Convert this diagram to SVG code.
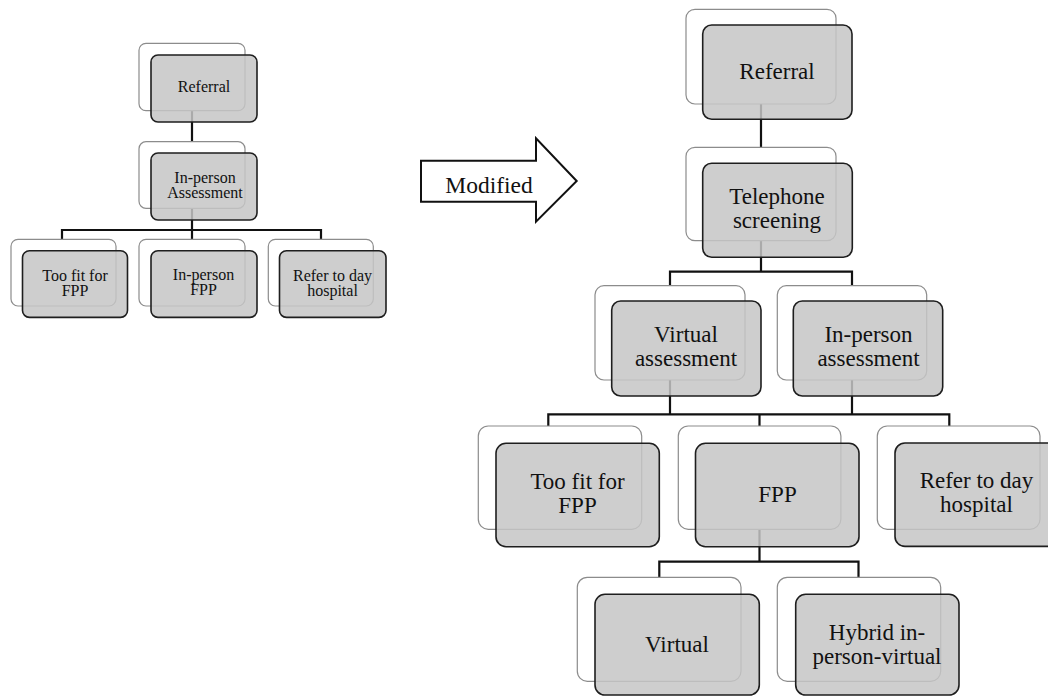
<svg xmlns="http://www.w3.org/2000/svg" width="1048" height="696" viewBox="0 0 1048 696">
<style>
.bk{fill:#ffffff;stroke:#8c8c8c;stroke-width:1.2}
.fr{fill:#c6c6c6;fill-opacity:0.85;stroke:#1e1e1e;stroke-width:1.6}
.cn{fill:none;stroke:#111;stroke-width:2.2}
.t{font-family:"Liberation Serif","Times New Roman",serif;fill:#111;text-anchor:middle}
.s{font-size:16px}
.l{font-size:23px}
</style>
<rect width="1048" height="696" fill="#fff"/>
<g id="connectors">
<path class="cn" d="M192 110.7V141.7M192 208.3V230M62 239.3V230H321V239.3M192 230V239.3"/>
<path class="cn" d="M761 104V147.3M761 240.7V271.7M670 285.7V271.7H852V285.7"/>
<path class="cn" d="M670 380V414.3M852 380V414.3M548.3 426V414.3H949.3V426M759.5 414.3V426"/>
<path class="cn" d="M759.5 529.3V561.7M659.3 577.3V561.7H858.5V577.3"/>
</g>
<g id="arrow-modified">
<polygon points="421,160.7 536,160.7 536,138.3 576.7,181 536,221.7 536,201.7 421,201.7" fill="#fff" stroke="#111" stroke-width="2"/>
<text class="t" x="489" y="192.5" style="font-size:23.5px">Modified</text>
</g>
<g id="left-referral">
<rect class="bk" x="139" y="43.3" width="106" height="67.4" rx="7"/>
<rect class="fr" x="151" y="55" width="106" height="67" rx="7"/>
<text class="t s" x="204" y="92">Referral</text>
</g>
<g id="left-inperson-assessment">
<rect class="bk" x="139" y="141.7" width="106" height="66.6" rx="7"/>
<rect class="fr" x="151" y="153" width="106" height="67" rx="7"/>
<text class="t s" x="205" y="183">In-person</text>
<text class="t s" x="205" y="198">Assessment</text>
</g>
<g id="left-toofit">
<rect class="bk" x="11" y="239.3" width="105" height="66.7" rx="7"/>
<rect class="fr" x="22.5" y="250.7" width="105" height="66.7" rx="7"/>
<text class="t s" x="75" y="281">Too fit for</text>
<text class="t s" x="75" y="296">FPP</text>
</g>
<g id="left-inperson-fpp">
<rect class="bk" x="139" y="239.3" width="106" height="66.7" rx="7"/>
<rect class="fr" x="151" y="250.7" width="106" height="66.7" rx="7"/>
<text class="t s" x="203.5" y="280">In-person</text>
<text class="t s" x="203.5" y="295">FPP</text>
</g>
<g id="left-refer">
<rect class="bk" x="268.3" y="239.3" width="105" height="66.7" rx="7"/>
<rect class="fr" x="279.5" y="250.7" width="106.5" height="66.7" rx="7"/>
<text class="t s" x="332.5" y="281">Refer to day</text>
<text class="t s" x="332.5" y="296">hospital</text>
</g>
<g id="right-referral">
<rect class="bk" x="686" y="9.3" width="150" height="94.7" rx="9"/>
<rect class="fr" x="702.7" y="25" width="149.3" height="94.3" rx="9"/>
<text class="t l" x="777" y="78.5">Referral</text>
</g>
<g id="right-telephone">
<rect class="bk" x="686" y="147.3" width="150" height="93.4" rx="9"/>
<rect class="fr" x="702.7" y="163.3" width="149.6" height="94" rx="9"/>
<text class="t l" x="777" y="203.5">Telephone</text>
<text class="t l" x="777" y="227.5">screening</text>
</g>
<g id="right-virtual-assessment">
<rect class="bk" x="595" y="285.7" width="150" height="94.3" rx="9"/>
<rect class="fr" x="611.7" y="301" width="149.3" height="95" rx="9"/>
<text class="t l" x="686" y="341.5">Virtual</text>
<text class="t l" x="686" y="365.5">assessment</text>
</g>
<g id="right-inperson-assessment">
<rect class="bk" x="777.3" y="285.7" width="149.4" height="94.3" rx="9"/>
<rect class="fr" x="793.3" y="301" width="149.4" height="95" rx="9"/>
<text class="t l" x="868.5" y="341.5">In-person</text>
<text class="t l" x="868.5" y="365.5">assessment</text>
</g>
<g id="right-toofit">
<rect class="bk" x="478.3" y="426" width="163.4" height="103.3" rx="10"/>
<rect class="fr" x="496" y="443.3" width="163.3" height="103.4" rx="10"/>
<text class="t l" x="577.5" y="488.5">Too fit for</text>
<text class="t l" x="577.5" y="512.5">FPP</text>
</g>
<g id="right-fpp">
<rect class="bk" x="678.3" y="426" width="162.6" height="103.3" rx="10"/>
<rect class="fr" x="695.5" y="443.3" width="163.5" height="103.4" rx="10"/>
<text class="t l" x="777.5" y="501.7">FPP</text>
</g>
<g id="right-refer">
<rect class="bk" x="877.3" y="426" width="162.7" height="103.3" rx="10"/>
<rect class="fr" x="895" y="443" width="163" height="103.4" rx="10"/>
<text class="t l" x="976.5" y="488">Refer to day</text>
<text class="t l" x="976.5" y="512">hospital</text>
</g>
<g id="right-virtual">
<rect class="bk" x="577.3" y="577.3" width="163.7" height="104" rx="10"/>
<rect class="fr" x="595" y="594.3" width="164.3" height="100.7" rx="10"/>
<text class="t l" x="677" y="651.7">Virtual</text>
</g>
<g id="right-hybrid">
<rect class="bk" x="777.3" y="577.3" width="163.4" height="104" rx="10"/>
<rect class="fr" x="795.7" y="594.3" width="163.3" height="100.7" rx="10"/>
<text class="t l" x="877" y="640">Hybrid in-</text>
<text class="t l" x="877" y="664">person-virtual</text>
</g>
</svg>
